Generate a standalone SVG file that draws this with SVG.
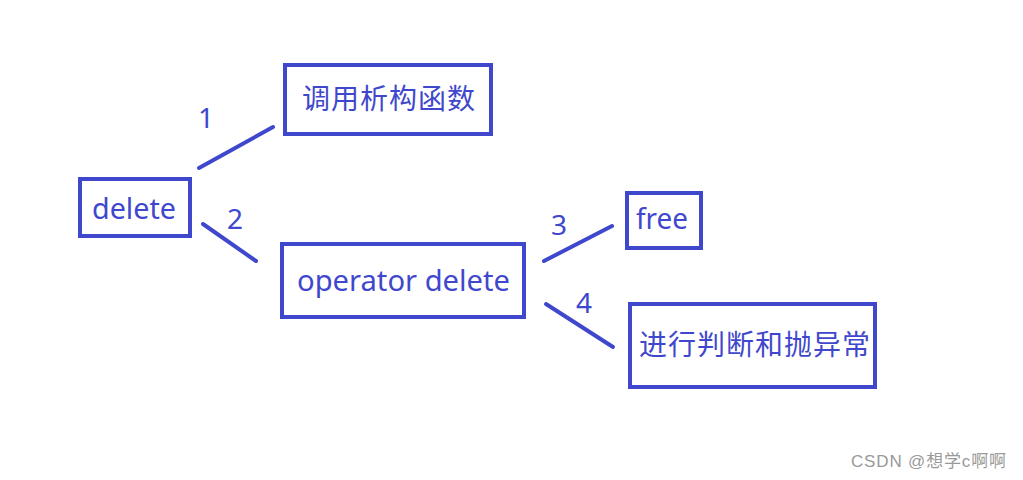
<svg xmlns="http://www.w3.org/2000/svg" width="1023" height="480" viewBox="0 0 1023 480">
<style>
.box{fill:none;stroke:#3f48cc;stroke-width:4}
.ln{stroke:#3f48cc;stroke-width:4;stroke-linecap:round}
.t{font-family:"Noto Sans","Noto Sans CJK SC",sans-serif;font-size:29px;fill:#3f48cc}
.n{font-family:"Noto Sans",sans-serif;font-size:28px;fill:#3f48cc}
.c{font-family:"Noto Sans CJK SC",sans-serif;font-size:28px;fill:#3f48cc}
.wm{font-family:"Liberation Sans","Noto Sans CJK SC",sans-serif;font-size:17px;fill:#999}
</style>
<rect width="1023" height="480" fill="#fff"/>
<g id="connectors">
<line class="ln" x1="199" y1="168" x2="273" y2="127"/>
<line class="ln" x1="203" y1="224" x2="256" y2="261"/>
<line class="ln" x1="544" y1="261" x2="612" y2="226"/>
<line class="ln" x1="546" y1="304" x2="613" y2="347"/>
<text class="n" x="198" y="128">1</text>
<text class="n" x="227" y="229">2</text>
<text class="n" x="551" y="235">3</text>
<text class="n" x="576" y="313">4</text>
</g>
<g id="node-delete">
<rect class="box" x="80" y="179" width="110" height="57"/>
<text class="t" x="92" y="219" textLength="84" lengthAdjust="spacingAndGlyphs">delete</text>
</g>
<g id="node-dtor">
<rect class="box" x="285" y="65" width="206" height="69"/>
<text class="c" x="302" y="109" textLength="173">调用析构函数</text>
</g>
<g id="node-opdelete">
<rect class="box" x="282" y="244" width="242" height="73"/>
<text class="t" x="297" y="291" textLength="213" lengthAdjust="spacingAndGlyphs">operator delete</text>
</g>
<g id="node-free">
<rect class="box" x="627" y="193" width="74" height="55"/>
<text class="t" x="636" y="229" textLength="52" lengthAdjust="spacingAndGlyphs">free</text>
</g>
<g id="node-throw">
<rect class="box" x="630" y="304" width="245" height="83"/>
<text class="c" x="639" y="355" textLength="231">进行判断和抛异常</text>
</g>
<text class="wm" x="851" y="467" textLength="155">CSDN @想学c啊啊</text>
</svg>
